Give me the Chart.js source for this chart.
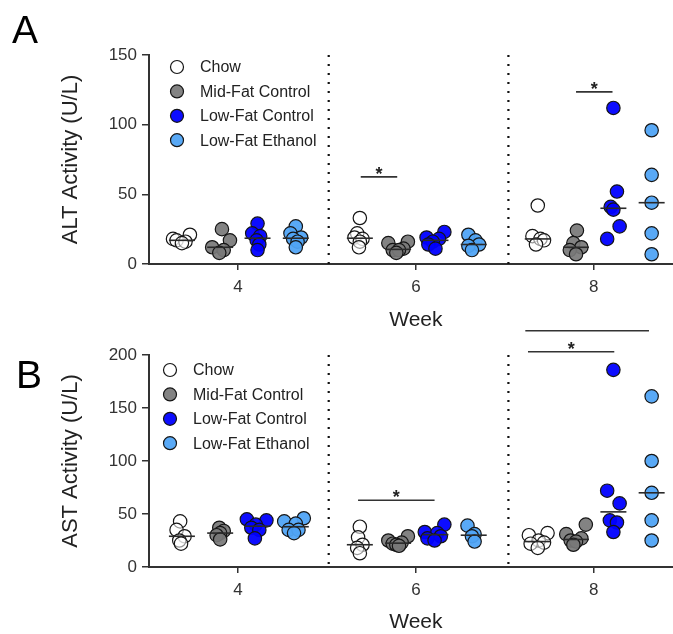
<!DOCTYPE html>
<html>
<head>
<meta charset="utf-8">
<script src="https://cdn.jsdelivr.net/npm/chart.js@4.4.1/dist/chart.umd.min.js"></script>
<style>
    html, body { margin: 0; padding: 0; background: #fff; overflow: hidden; }
    canvas { display: block; }
</style>
</head>
<body>
<canvas id="altChart" width="673" height="330"></canvas>
<canvas id="astChart" width="673" height="304"></canvas>
<script>
// weeks on the x axis, groups inside each week
const weeks = [4, 6, 8];
const weekSeparators = [5.02, 7.04];
const groupNames = ['Chow', 'Mid-Fat Control', 'Low-Fat Control', 'Low-Fat Ethanol'];
const groupOffsets = [-0.63, -0.2, 0.22, 0.65];
const groupFills = ['rgba(255,255,255,0.55)', 'rgba(120,120,120,0.92)', 'rgba(0,0,255,0.95)', 'rgba(80,164,245,0.95)'];

// ALT (U/L), one list per week: [wk4, wk6, wk8]
const altChow = [[21, 18, 17, 16, 15], [33, 22, 19, 18, 16, 12], [42, 20, 18, 17, 14]];
const altMidFat = [[25, 17, 12, 10, 8], [16, 15, 11, 10, 10, 8], [24, 15, 12, 10, 7]];
const altLowFat = [[29, 22, 20, 17, 14, 10], [23, 19, 18, 16, 14, 11], [112, 52, 41, 39, 27, 18]];
const altEthanol = [[27, 22, 19, 18, 16, 12], [21, 17, 14, 13, 10], [96, 64, 44, 22, 7]];

// horizontal spread of the points (week units)
const altChowJitter = [[0.09, -0.1, -0.06, 0.04, 0], [0, -0.03, -0.06, 0.03, 0, -0.01], [0, -0.06, 0.03, 0.07, -0.02]];
const altMidFatJitter = [[0.02, 0.11, -0.09, 0.04, -0.01], [0.11, -0.11, 0.06, -0.06, 0.01, -0.02], [0.01, -0.03, 0.06, -0.07, 0]];
const altLowFatJitter = [[0, -0.06, 0.03, -0.01, 0.02, 0], [0.1, -0.1, 0.04, -0.03, -0.08, 0], [0, 0.04, -0.03, 0, 0.07, -0.07]];
const altEthanolJitter = [[0, -0.06, 0.06, -0.03, 0.02, 0], [-0.06, 0.02, 0.06, -0.06, -0.02], [0, 0, 0, 0, 0]];

// AST (U/L)
const astChow = [[43, 35, 29, 25, 22], [38, 28, 21, 18, 13], [32, 30, 25, 23, 22, 18]];
const astMidFat = [[37, 34, 32, 30, 26], [29, 25, 23, 22, 21, 20], [40, 31, 27, 25, 24, 21]];
const astLowFat = [[45, 44, 40, 37, 35, 27], [40, 33, 32, 29, 27, 25], [186, 72, 60, 44, 42, 33]];
const astEthanol = [[46, 43, 41, 35, 35, 32], [39, 31, 29, 24], [161, 100, 70, 44, 25]];

const astChowJitter = [[-0.02, -0.06, 0.03, -0.03, -0.01], [0, -0.02, 0.03, -0.03, 0], [0.11, -0.1, 0.01, 0.07, -0.08, 0]];
const astMidFatJitter = [[-0.01, 0.04, 0, -0.04, 0], [0.11, -0.11, 0.04, -0.06, -0.02, 0.01], [0.11, -0.11, 0.06, -0.06, 0, -0.03]];
const astLowFatJitter = [[-0.12, 0.1, -0.02, -0.07, 0.02, -0.03], [0.1, -0.12, 0.02, 0.06, -0.09, -0.01], [0, -0.07, 0.07, -0.04, 0.04, 0]];
const astEthanolJitter = [[0.09, -0.13, 0, -0.08, 0.03, -0.02], [-0.07, 0.01, -0.02, 0.01], [0, 0, 0, 0, 0]];

// significance bars: x range (week units) and height (U/L)
const altSig = [
    { x1: 5.38, x2: 5.79, y: 62.5 },
    { x1: 7.8, x2: 8.21, y: 123.5 }
];
const astSig = [
    { x1: 5.35, x2: 6.21, y: 63 },
    { x1: 7.23, x2: 8.62, y: 223 },
    { x1: 7.26, x2: 8.23, y: 203 }
];

const altTicks = [0, 50, 100, 150];
const astTicks = [0, 50, 100, 150, 200];

const FONT = '"Liberation Sans", Arial, sans-serif';

function median(list) {
    const s = [...list].sort((a, b) => a - b);
    const m = Math.floor(s.length / 2);
    return s.length % 2 ? s[m] : (s[m - 1] + s[m]) / 2;
}

function buildDatasets(values, jitters) {
    const sets = groupNames.map((name, g) => {
        const points = [];
        weeks.forEach((week, w) => {
            values[g][w].forEach((v, i) => {
                points.push({ x: week + groupOffsets[g] + jitters[g][w][i], y: v });
            });
        });
        return {
            label: name,
            data: points,
            pointRadius: 6.7,
            backgroundColor: groupFills[g],
            borderColor: '#151515',
            borderWidth: 1.2,
            clip: false,
            order: 1
        };
    });

    // median bars on top of points
    const medians = [];
    weeks.forEach((week, w) => {
        groupNames.forEach((name, g) => {
            medians.push({ x: week + groupOffsets[g], y: median(values[g][w]) });
        });
    });
    sets.push({
        label: 'median',
        data: medians,
        pointStyle: 'line',
        pointRadius: 13,
        borderColor: '#2a2a2a',
        borderWidth: 1.6,
        clip: false,
        order: 0
    });
    return sets;
}

const panelDecor = {
    id: 'panelDecor',
    beforeDatasetsDraw(chart) {
        const { ctx, chartArea, scales } = chart;
        ctx.save();
        ctx.strokeStyle = '#111';
        ctx.lineWidth = 2.2;
        ctx.setLineDash([2, 7]);
        weekSeparators.forEach((v) => {
            const px = scales.x.getPixelForValue(v);
            ctx.beginPath();
            ctx.moveTo(px, chartArea.top);
            ctx.lineTo(px, chartArea.bottom);
            ctx.stroke();
        });
        ctx.restore();
    },
    afterDraw(chart, args, opts) {
        const { ctx, chartArea, scales } = chart;
        ctx.save();

        // panel letter
        ctx.fillStyle = '#000';
        ctx.font = `39px ${FONT}`;
        ctx.textBaseline = 'alphabetic';
        ctx.textAlign = 'left';
        ctx.fillText(opts.letter, opts.letterX, opts.letterY);

        // y title
        ctx.fillStyle = '#222';
        ctx.font = `22px ${FONT}`;
        ctx.textAlign = 'center';
        ctx.textBaseline = 'middle';
        ctx.save();
        ctx.translate(71, (chartArea.top + chartArea.bottom) / 2);
        ctx.rotate(-Math.PI / 2);
        ctx.fillText(opts.yTitle, 0, 0);
        ctx.restore();

        // x title
        ctx.font = `21px ${FONT}`;
        ctx.fillText('Week', scales.x.getPixelForValue(6), opts.weekY);

        // legend
        ctx.font = `16px ${FONT}`;
        ctx.textAlign = 'left';
        groupNames.forEach((name, g) => {
            const y = opts.legendY + g * 24.4;
            ctx.beginPath();
            ctx.arc(opts.legendX, y, 6.5, 0, Math.PI * 2);
            ctx.fillStyle = g === 0 ? '#fff' : groupFills[g];
            ctx.fill();
            ctx.lineWidth = 1.2;
            ctx.strokeStyle = '#151515';
            ctx.stroke();
            ctx.fillStyle = '#222';
            ctx.fillText(name, opts.legendX + 23, y + 1);
        });

        // significance bars
        ctx.strokeStyle = '#333';
        ctx.lineWidth = 1.6;
        ctx.fillStyle = '#222';
        ctx.font = `bold 18px ${FONT}`;
        ctx.textAlign = 'center';
        ctx.textBaseline = 'alphabetic';
        opts.sig.forEach((bar) => {
            const x1 = scales.x.getPixelForValue(bar.x1);
            const x2 = scales.x.getPixelForValue(bar.x2);
            const y = scales.y.getPixelForValue(bar.y);
            ctx.beginPath();
            ctx.moveTo(x1, y);
            ctx.lineTo(x2, y);
            ctx.stroke();
            ctx.fillText('*', (x1 + x2) / 2, y + 3);
        });

        ctx.restore();
    }
};

function makeChart(canvasId, values, jitters, cfg) {
    return new Chart(document.getElementById(canvasId), {
        type: 'scatter',
        plugins: [panelDecor],
        data: { datasets: buildDatasets(values, jitters) },
        options: {
            responsive: false,
            maintainAspectRatio: false,
            animation: false,
            events: [],
            layout: {
                // 점 크기 때문에 자동 여백이 붙지 않도록
                autoPadding: false,
                padding: { top: cfg.top, left: 0, right: 0, bottom: 0 }
            },
            plugins: {
                legend: { display: false },
                tooltip: { enabled: false },
                panelDecor: cfg.decor
            },
            scales: {
                x: {
                    type: 'linear',
                    min: 3,
                    max: 8.89,
                    afterBuildTicks(scale) {
                        scale.ticks = weeks.map((v) => ({ value: v }));
                    },
                    afterFit(scale) {
                        scale.height = cfg.xHeight;
                        scale.paddingLeft = 0;
                        scale.paddingRight = 0;
                    },
                    ticks: {
                        color: '#333',
                        padding: 7,
                        font: { family: FONT, size: 17 },
                        maxRotation: 0
                    },
                    grid: { drawOnChartArea: false, drawTicks: true, tickLength: 6, color: '#333', lineWidth: 1.5 },
                    border: { color: '#333', width: 2 }
                },
                y: {
                    type: 'linear',
                    min: 0,
                    max: cfg.yMax,
                    afterBuildTicks(scale) {
                        scale.ticks = cfg.ticks.map((v) => ({ value: v }));
                    },
                    afterFit(scale) {
                        scale.width = 149;
                        scale.paddingTop = 0;
                        scale.paddingBottom = 0;
                    },
                    ticks: {
                        color: '#333',
                        padding: 5,
                        font: { family: FONT, size: 17 }
                    },
                    grid: { drawOnChartArea: false, drawTicks: true, tickLength: 7, color: '#333', lineWidth: 1.5 },
                    border: { color: '#333', width: 2 }
                }
            }
        }
    });
}

makeChart('altChart',
    [altChow, altMidFat, altLowFat, altEthanol],
    [altChowJitter, altMidFatJitter, altLowFatJitter, altEthanolJitter],
    {
        top: 55, xHeight: 66, yMax: 150, ticks: altTicks,
        decor: {
            letter: 'A', letterX: 12, letterY: 43,
            yTitle: 'ALT Activity (U/L)', weekY: 320,
            legendX: 177, legendY: 67, sig: altSig
        }
    });

makeChart('astChart',
    [astChow, astMidFat, astLowFat, astEthanol],
    [astChowJitter, astMidFatJitter, astLowFatJitter, astEthanolJitter],
    {
        top: 25, xHeight: 67, yMax: 200, ticks: astTicks,
        decor: {
            letter: 'B', letterX: 16, letterY: 58,
            yTitle: 'AST Activity (U/L)', weekY: 292,
            legendX: 170, legendY: 40, sig: astSig
        }
    });
</script>
</body>
</html>
